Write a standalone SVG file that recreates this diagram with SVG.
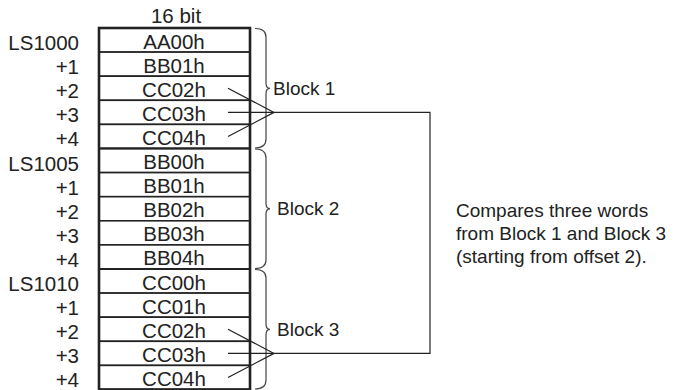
<svg xmlns="http://www.w3.org/2000/svg" width="692" height="390" viewBox="0 0 692 390">
<style>
text{font-family:"Liberation Sans",Arial,sans-serif;font-size:19px;fill:#222}
.c{text-anchor:middle;font-size:20.5px}
.l{text-anchor:end;font-size:20.5px}
.cell{fill:#fff;stroke:#222;stroke-width:1.6}
.brace{fill:none;stroke:#444;stroke-width:1.2}
.wire{fill:none;stroke:#222;stroke-width:1.2}
</style>
<rect width="692" height="390" fill="#fff"/>
<text class="c" x="176" y="22.5">16 bit</text>
<g id="labels">
<text class="l" x="79" y="50">LS1000</text>
<text class="l" x="79" y="74.1">+1</text>
<text class="l" x="79" y="98.2">+2</text>
<text class="l" x="79" y="122.3">+3</text>
<text class="l" x="79" y="146.4">+4</text>
<text class="l" x="79" y="170.5">LS1005</text>
<text class="l" x="79" y="194.6">+1</text>
<text class="l" x="79" y="218.7">+2</text>
<text class="l" x="79" y="242.8">+3</text>
<text class="l" x="79" y="266.9">+4</text>
<text class="l" x="79" y="291">LS1010</text>
<text class="l" x="79" y="315.1">+1</text>
<text class="l" x="79" y="339.2">+2</text>
<text class="l" x="79" y="363.3">+3</text>
<text class="l" x="79" y="387.4">+4</text>
</g>
<g id="r0"><rect class="cell" x="99" y="28" width="151" height="24.1"/><text class="c" x="174" y="48.5">AA00h</text></g>
<g id="r1"><rect class="cell" x="99" y="52.1" width="151" height="24.1"/><text class="c" x="174" y="72.6">BB01h</text></g>
<g id="r2"><rect class="cell" x="99" y="76.2" width="151" height="24.1"/><text class="c" x="174" y="96.7">CC02h</text></g>
<g id="r3"><rect class="cell" x="99" y="100.3" width="151" height="24.1"/><text class="c" x="174" y="120.8">CC03h</text></g>
<g id="r4"><rect class="cell" x="99" y="124.4" width="151" height="24.1"/><text class="c" x="174" y="144.9">CC04h</text></g>
<g id="r5"><rect class="cell" x="99" y="148.5" width="151" height="24.1"/><text class="c" x="174" y="169">BB00h</text></g>
<g id="r6"><rect class="cell" x="99" y="172.6" width="151" height="24.1"/><text class="c" x="174" y="193.1">BB01h</text></g>
<g id="r7"><rect class="cell" x="99" y="196.7" width="151" height="24.1"/><text class="c" x="174" y="217.2">BB02h</text></g>
<g id="r8"><rect class="cell" x="99" y="220.8" width="151" height="24.1"/><text class="c" x="174" y="241.3">BB03h</text></g>
<g id="r9"><rect class="cell" x="99" y="244.9" width="151" height="24.1"/><text class="c" x="174" y="265.4">BB04h</text></g>
<g id="r10"><rect class="cell" x="99" y="269" width="151" height="24.1"/><text class="c" x="174" y="289.5">CC00h</text></g>
<g id="r11"><rect class="cell" x="99" y="293.1" width="151" height="24.1"/><text class="c" x="174" y="313.6">CC01h</text></g>
<g id="r12"><rect class="cell" x="99" y="317.2" width="151" height="24.1"/><text class="c" x="174" y="337.7">CC02h</text></g>
<g id="r13"><rect class="cell" x="99" y="341.3" width="151" height="24.1"/><text class="c" x="174" y="361.8">CC03h</text></g>
<g id="r14"><rect class="cell" x="99" y="365.4" width="151" height="24.1"/><text class="c" x="174" y="385.9">CC04h</text></g>
<g id="frame">
<rect x="99" y="28" width="151" height="361.5" fill="none" stroke="#222" stroke-width="2.6"/>
<line x1="99" y1="148.5" x2="250" y2="148.5" stroke="#222" stroke-width="2.2"/>
<line x1="99" y1="269" x2="250" y2="269" stroke="#222" stroke-width="2.2"/>
</g>
<g id="block1"><path class="brace" d="M255,28.5 Q266,28.5 266,37 V83 Q266,88.3 270,88.3 Q266,88.3 266,94 V139 Q266,148 255,148"/><text x="273" y="94.5">Block 1</text></g>
<g id="block2"><path class="brace" d="M255,149 Q266,149 266,158 V203 Q266,208.8 270,208.8 Q266,208.8 266,214 V260 Q266,268.5 255,268.5"/><text x="277" y="215">Block 2</text></g>
<g id="block3"><path class="brace" d="M255,269.5 Q266,269.5 266,278 V324 Q266,329.3 270,329.3 Q266,329.3 266,335 V380 Q266,389 255,389"/><text x="277" y="336">Block 3</text></g>
<g id="note">
<text x="456" y="217">Compares three words</text>
<text x="456" y="240">from Block 1 and Block 3</text>
<text x="456" y="263">(starting from offset 2).</text>
</g>
<g id="connectors">
<path class="wire" d="M228,88.3 L274,112.4 L228,136.5"/>
<path class="wire" d="M228,329.3 L274,353.4 L228,377.5"/>
<path class="wire" d="M228,112.4 H430 V353.4 H228"/>
</g>
</svg>
